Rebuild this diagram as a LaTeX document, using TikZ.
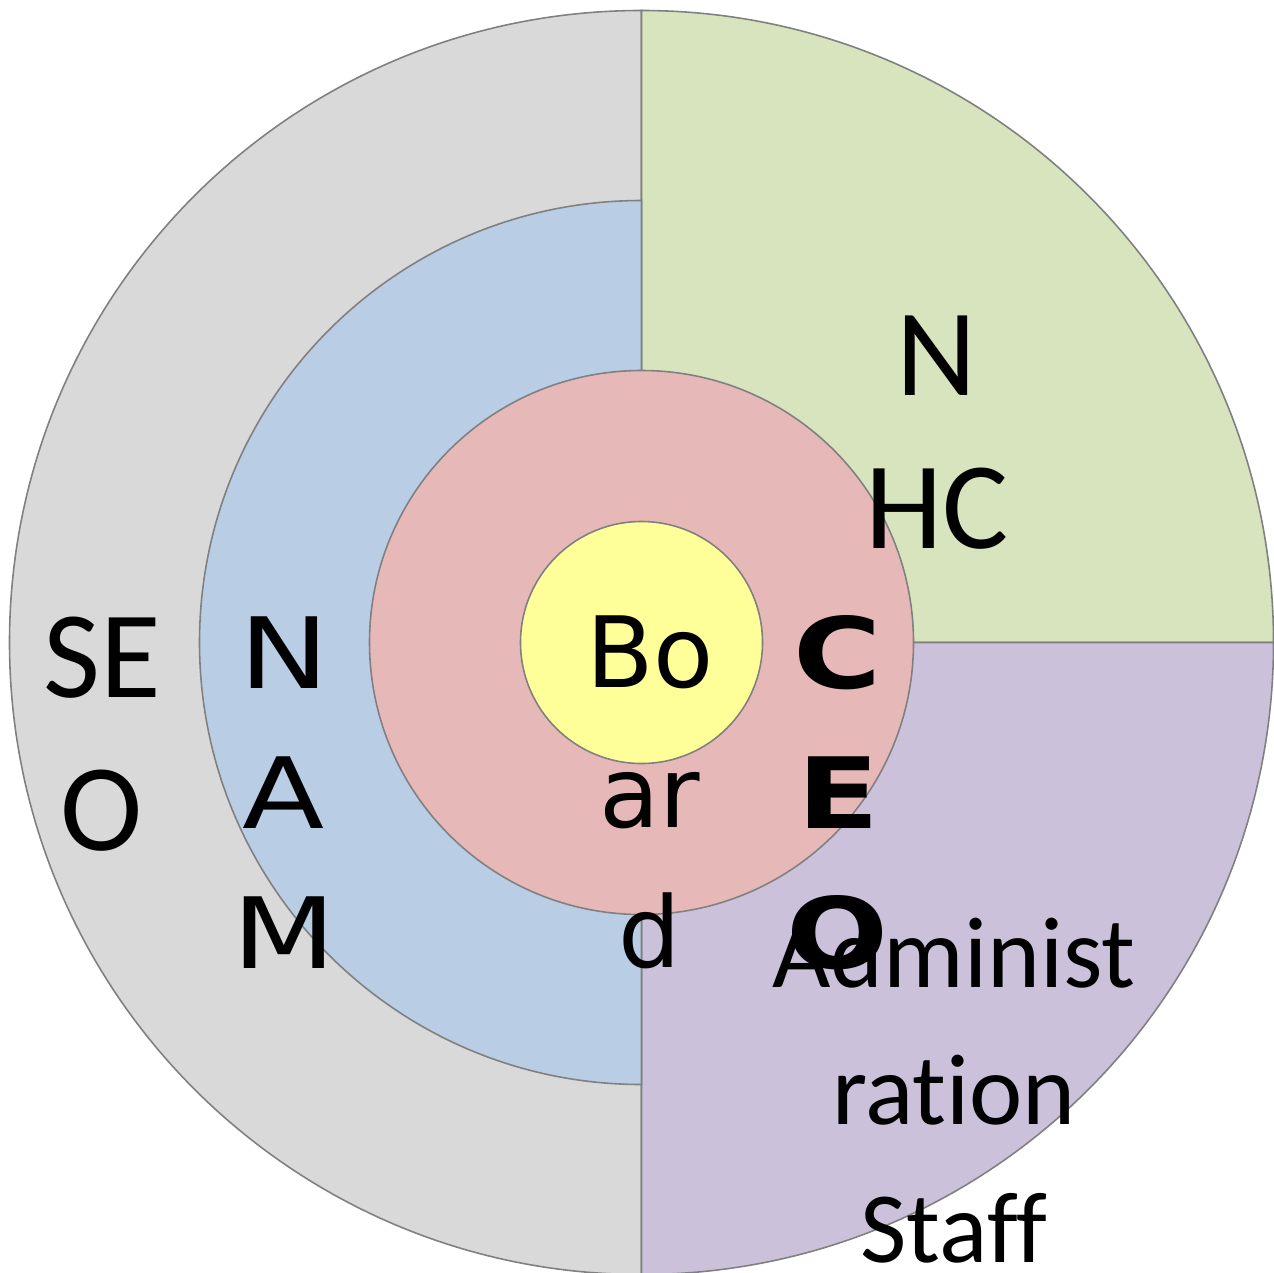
\documentclass[tikz,border=0pt]{standalone}
\usepackage{fontspec}
\usetikzlibrary{positioning}
\newfontfamily\calfont[Ligatures=NoCommon]{Carlito}
\newfontfamily\dvfont{DejaVu Sans}
\newfontfamily\dvwide[FakeStretch=1.22]{DejaVu Sans}
\definecolor{ringGray}{HTML}{D9D9D9}
\definecolor{ringBlue}{HTML}{B9CDE5}
\definecolor{ringRed}{HTML}{E6B9B8}
\definecolor{ringYellow}{HTML}{FFFF99}
\definecolor{quadGreen}{HTML}{D7E4BD}
\definecolor{quadPurple}{HTML}{CCC1DA}
\definecolor{edgeGray}{HTML}{808080}

\begin{document}
\begin{tikzpicture}[
    part/.style={draw=edgeGray, line width=0.45pt},
    biglabel/.style={anchor=base, align=center, inner sep=0pt,
                     font=\calfont\fontsize{35.3}{43.5}\selectfont},
    midlabel/.style={anchor=base, align=center, inner sep=0pt,
                     font=\calfont\fontsize{28.7}{39}\selectfont},
    dvlabel/.style={anchor=base, align=center, inner sep=0pt,
                    font=\dvfont\fontsize{28}{39.7}\selectfont},
  ]
    \useasboundingbox[fill=white] (0,0) rectangle (12.74,12.72);
    \coordinate (c) at (6.415,6.295);

    % outer ring: left half and the two right quadrants
    \path[part, fill=ringGray] (c) -- ++(90:6.32) arc[start angle=90, end angle=270, radius=6.32] -- cycle;
    \path[part, fill=quadGreen] (c) -- ++(0:6.32) arc[start angle=0, end angle=90, radius=6.32] -- cycle;
    \path[part, fill=quadPurple] (c) -- ++(-90:6.32) arc[start angle=-90, end angle=0, radius=6.32] -- cycle;
    % inner rings
    \path[part, fill=ringBlue] (c) -- ++(90:4.42) arc[start angle=90, end angle=270, radius=4.42] -- cycle;
    \path[part, fill=ringRed] (c) circle[radius=2.72];
    \path[part, fill=ringYellow] (c) circle[radius=1.21];

    % labels, placed at the baseline of their last line
    \node[biglabel] (seo) at (1.02,4.22) {SE\\O};
    \node[dvlabel, font=\dvwide\fontsize{28}{39.7}\selectfont] (nam) at (2.84,3.04) {N\\A\\M};
    \node[dvlabel] (board) at (6.50,3.05) {Bo\\ar\\d};
    \node[dvlabel, font=\dvwide\bfseries\fontsize{28}{39.7}\selectfont] (ceo) at (8.38,3.04) {C\\E\\O};
    \node[biglabel] (nhc) at (9.37,7.24) {N\\HC};
    \node[midlabel] (admin) at (9.54,0.10) {Administ\\ration\\Staff};
  \end{tikzpicture}
\end{document}
